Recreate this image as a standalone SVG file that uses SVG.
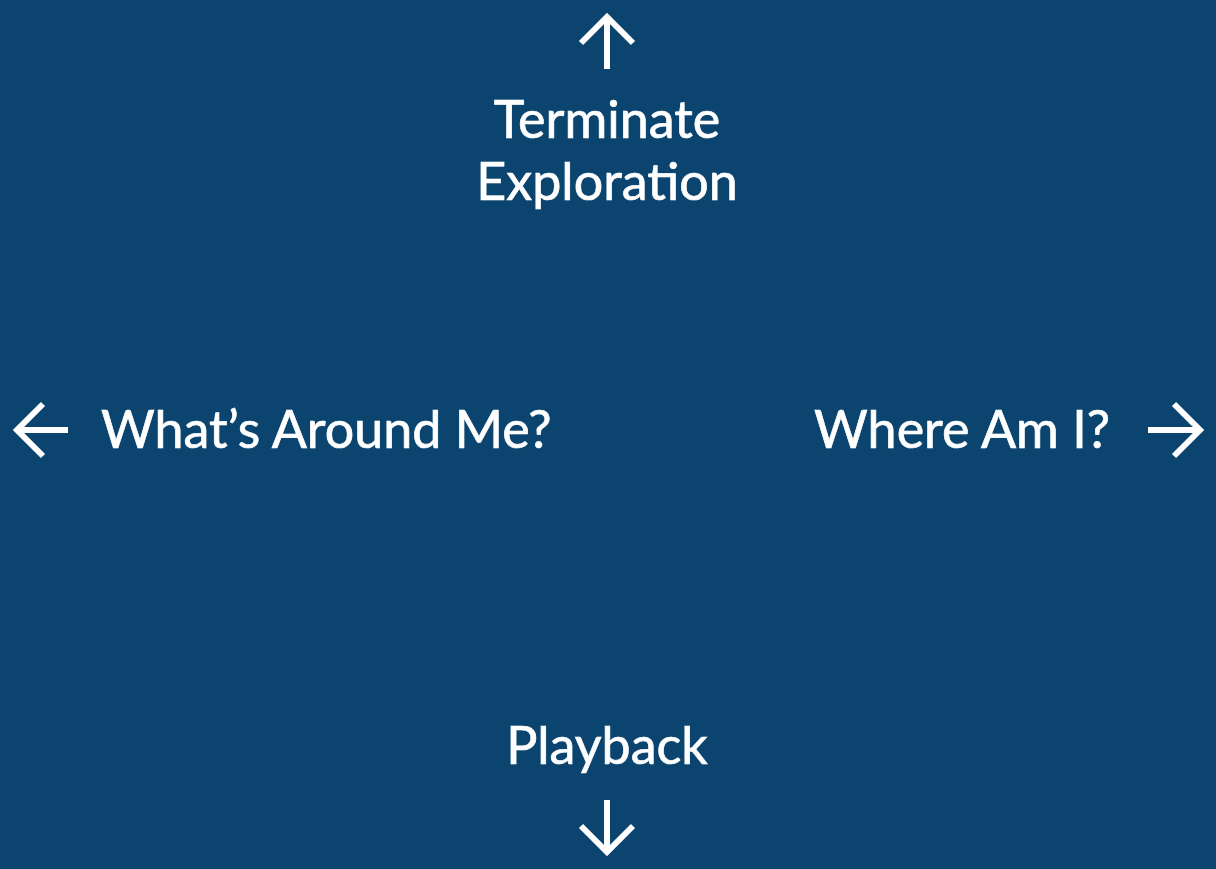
<svg xmlns="http://www.w3.org/2000/svg" width="1216" height="869" viewBox="0 0 1216 869">
  <style>
    .label { font-family: Lato, "Open Sans", sans-serif; font-size: 52px; fill: #ffffff; stroke: #ffffff; stroke-width: 0.7; }
    .arrow { fill: none; stroke: #ffffff; stroke-width: 6; stroke-linecap: butt; stroke-linejoin: miter; }
  </style>
  <rect width="1216" height="869" fill="#0a446f"/>

  <g id="connectors">
    <!-- up -->
    <path class="arrow" d="M607 69 V17 M581 43 L607 17 L633 43"/>
    <!-- left -->
    <path class="arrow" d="M68 430 H17 M43 404 L17 430 L43 456"/>
    <!-- right -->
    <path class="arrow" d="M1148 430 H1200 M1174 404 L1200 430 L1174 456"/>
    <!-- down -->
    <path class="arrow" d="M607 800 V852 M581 826 L607 852 L633 826"/>
  </g>

  <g id="terminate">
    <text class="label" x="607" y="138" text-anchor="middle">Terminate</text>
    <text class="label" x="607" y="200" text-anchor="middle">Exploration</text>
  </g>
  <g id="whats-around">
    <text class="label" x="101" y="448">What’s Around Me?</text>
  </g>
  <g id="where-am-i">
    <text class="label" x="1110" y="448" text-anchor="end">Where Am I?</text>
  </g>
  <g id="playback">
    <text class="label" x="607" y="764" text-anchor="middle">Playback</text>
  </g>
</svg>
